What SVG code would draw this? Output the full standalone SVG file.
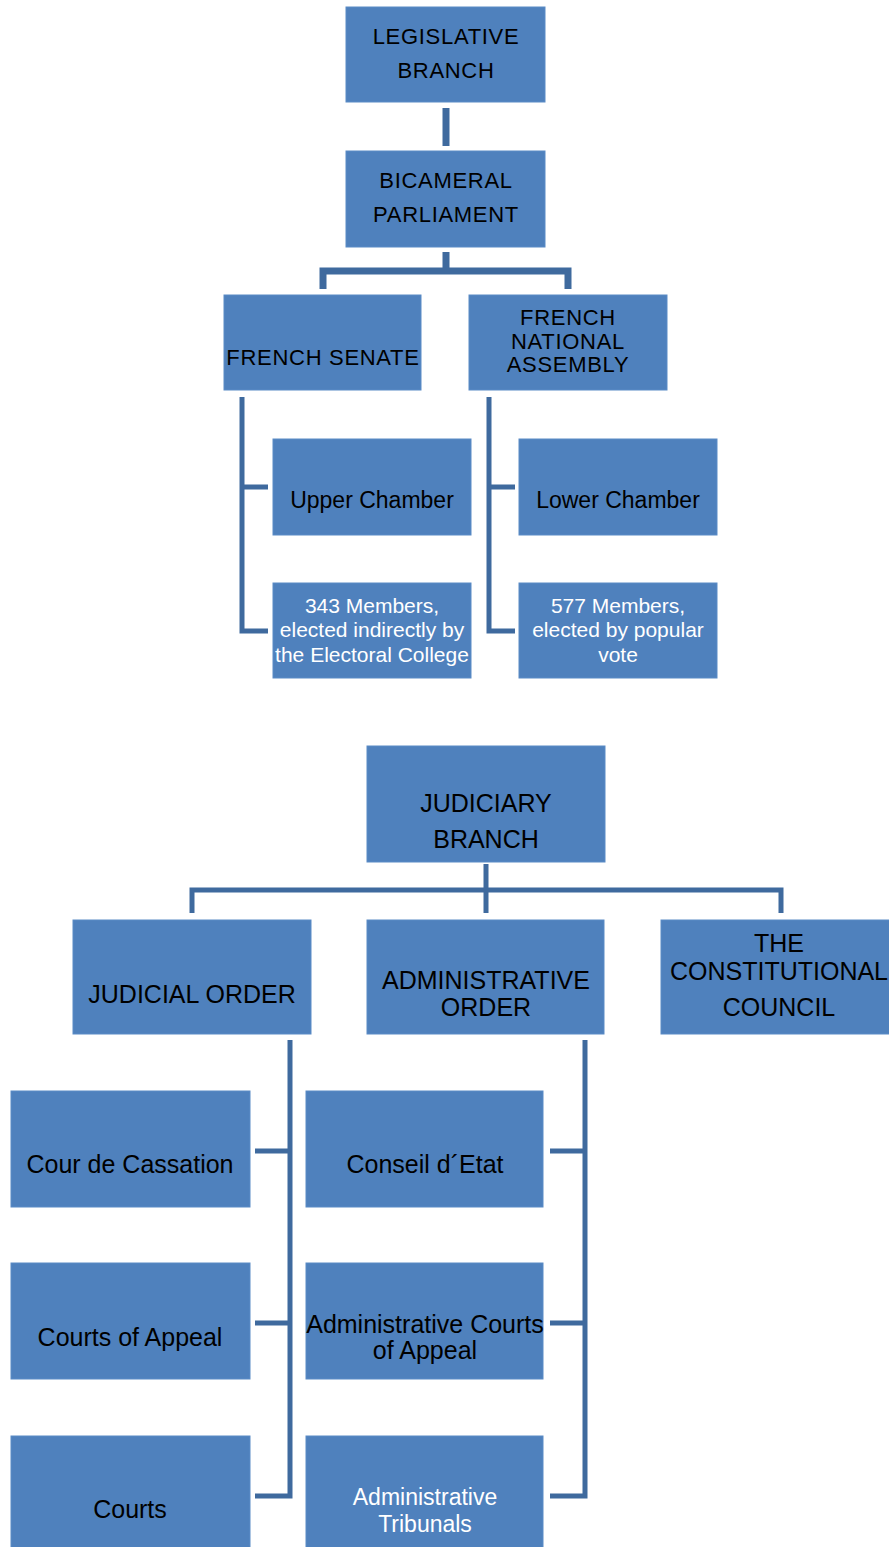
<svg xmlns="http://www.w3.org/2000/svg" width="889" height="1547" viewBox="0 0 889 1547">
<style>
.box{fill:#4F81BD;stroke:#5B8BC6;stroke-width:1}
.t{font-family:"Liberation Sans",Arial,sans-serif;text-anchor:middle;fill:#000}
.w{fill:#fff}
.a{font-size:22px;letter-spacing:0.7px}
.b{font-size:21px}
.u{font-size:23px}
.c{font-size:25px}
.con{fill:none;stroke:#3F6A9E;stroke-linejoin:miter}
.c1{stroke-width:7}
.c2{stroke-width:5}
</style>
<rect width="889" height="1547" fill="#fff"/>
<g id="connectors">
<path class="con c1" d="M446 108V146"/>
<path class="con c1" d="M446 252V271M323 289V271H568V289"/>
<path class="con c2" d="M242 397V631H268M242 487H268"/>
<path class="con c2" d="M489 397V631H515M489 487H515"/>
<path class="con c2" d="M486 864V890M192 913V890H781V913M486 890V913"/>
<path class="con c2" d="M290 1040V1496H255M290 1151H255M290 1323H255"/>
<path class="con c2" d="M585 1040V1496H550M585 1151H550M585 1323H550"/>
</g>
<g id="legislative"><rect class="box" x="346" y="7" width="199" height="95"/><text class="t a" x="446" y="44">LEGISLATIVE</text><text class="t a" x="446" y="78">BRANCH</text></g>
<g id="bicameral"><rect class="box" x="346" y="151" width="199" height="96"/><text class="t a" x="446" y="188">BICAMERAL</text><text class="t a" x="446" y="222">PARLIAMENT</text></g>
<g id="senate"><rect class="box" x="224" y="295" width="197" height="95"/><text class="t a" x="323" y="365">FRENCH SENATE</text></g>
<g id="assembly"><rect class="box" x="469" y="295" width="198" height="95"/><text class="t a" x="568" y="325">FRENCH</text><text class="t a" x="568" y="349">NATIONAL</text><text class="t a" x="568" y="372">ASSEMBLY</text></g>
<g id="upper"><rect class="box" x="273" y="439" width="198" height="96"/><text class="t u" x="372" y="508">Upper Chamber</text></g>
<g id="senate-members"><rect class="box" x="273" y="583" width="198" height="95"/><text class="t b w" x="372" y="613">343 Members,</text><text class="t b w" x="372" y="637">elected indirectly by</text><text class="t b w" x="372" y="662">the Electoral College</text></g>
<g id="lower"><rect class="box" x="519" y="439" width="198" height="96"/><text class="t u" x="618" y="508">Lower Chamber</text></g>
<g id="assembly-members"><rect class="box" x="519" y="583" width="198" height="95"/><text class="t b w" x="618" y="613">577 Members,</text><text class="t b w" x="618" y="637">elected by popular</text><text class="t b w" x="618" y="662">vote</text></g>
<g id="judiciary"><rect class="box" x="367" y="746" width="238" height="116"/><text class="t c" x="486" y="812">JUDICIARY</text><text class="t c" x="486" y="848">BRANCH</text></g>
<g id="judicial-order"><rect class="box" x="73" y="920" width="238" height="114"/><text class="t c" x="192" y="1003">JUDICIAL ORDER</text></g>
<g id="administrative-order"><rect class="box" x="367" y="920" width="237" height="114"/><text class="t c" x="486" y="989">ADMINISTRATIVE</text><text class="t c" x="486" y="1016">ORDER</text></g>
<g id="constitutional"><rect class="box" x="661" y="920" width="238" height="114"/><text class="t c" x="779" y="952">THE</text><text class="t c" x="779" y="980">CONSTITUTIONAL</text><text class="t c" x="779" y="1016">COUNCIL</text></g>
<g id="cassation"><rect class="box" x="11" y="1091" width="239" height="116"/><text class="t c" x="130" y="1173">Cour de Cassation</text></g>
<g id="courts-appeal"><rect class="box" x="11" y="1263" width="239" height="116"/><text class="t c" x="130" y="1346">Courts of Appeal</text></g>
<g id="courts"><rect class="box" x="11" y="1436" width="239" height="120"/><text class="t c" x="130" y="1518">Courts</text></g>
<g id="conseil"><rect class="box" x="306" y="1091" width="237" height="116"/><text class="t c" x="425" y="1173">Conseil d´Etat</text></g>
<g id="admin-courts-appeal"><rect class="box" x="306" y="1263" width="237" height="116"/><text class="t c" x="425" y="1333">Administrative Courts</text><text class="t c" x="425" y="1359">of Appeal</text></g>
<g id="admin-tribunals"><rect class="box" x="306" y="1436" width="237" height="120"/><text class="t w" x="425" y="1505" style="font-size:23px">Administrative</text><text class="t w" x="425" y="1532" style="font-size:23px">Tribunals</text></g>
</svg>
